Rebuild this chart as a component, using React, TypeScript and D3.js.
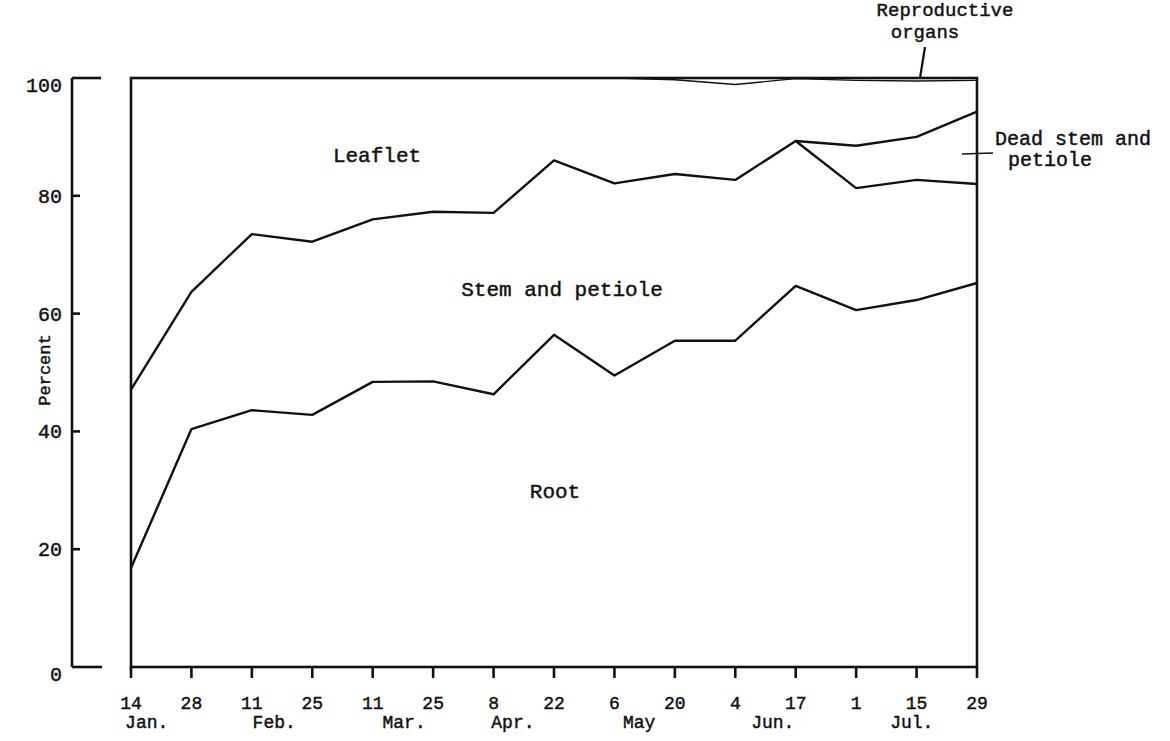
import React from "react";
import * as d3 from "d3";

const dayLabels = ["14", "28", "11", "25", "11", "25", "8", "22", "6", "20", "4", "17", "1", "15", "29"];
const monthLabels = ["Jan.", "Feb.", "Mar.", "Apr.", "May", "Jun.", "Jul."];
const monthAnchors = [0.26, 2.37, 4.52, 6.32, 8.41, 10.62, 12.92];
const yTicks = [0, 20, 40, 60, 80, 100];

// cumulative upper boundaries (percent)
const rootTop = [16.8, 40.4, 43.6, 42.8, 48.4, 48.5, 46.3, 56.4, 49.5, 55.4, 55.4, 64.7, 60.6, 62.3, 65.2];
const stemTop = [47.1, 63.7, 73.5, 72.2, 76.0, 77.3, 77.1, 86.0, 82.1, 83.7, 82.7, 89.3, 81.3, 82.7, 82.0];
const deadStemTop = [47.1, 63.7, 73.5, 72.2, 76.0, 77.3, 77.1, 86.0, 82.1, 83.7, 82.7, 89.3, 88.5, 90.0, 94.3];
const leafletTop = [100, 100, 100, 100, 100, 100, 100, 100, 100, 99.7, 98.9, 99.9, 99.6, 99.5, 99.6];

const FONT = "'Liberation Mono', 'DejaVu Sans Mono', monospace";

export default function App() {
  const W = 1170, H = 741;
  const x = d3.scaleLinear().domain([0, dayLabels.length - 1]).range([131, 977]);
  const y = d3.scaleLinear().domain([0, 100]).range([667, 78]);
  const line = (vals: number[], start = 0) =>
    d3.line<number>()
      .x((_, i) => x(i + start))
      .y((v) => y(v))(vals.slice(start)) || "";

  const axisX = 72;
  const txt = { fontFamily: FONT, fill: "#111", stroke: "#111", strokeWidth: 0.45 } as const;

  return (
    <svg width={W} height={H} style={{ position: "absolute", left: 0, top: 0, background: "#fff" }}>
      {/* separate y axis */}
      <g stroke="#111" strokeWidth={2.6} fill="none">
        <line x1={axisX} x2={axisX} y1={y(100)} y2={y(0)} />
        <line x1={axisX} x2={101} y1={y(100)} y2={y(100)} />
        <line x1={axisX} x2={102} y1={y(0)} y2={y(0)} />
        {yTicks.filter((t) => t > 0 && t < 100).map((t) => (
          <line key={t} x1={axisX} x2={axisX + 8} y1={y(t)} y2={y(t)} />
        ))}
      </g>
      {yTicks.map((t) => (
        <text key={t} x={62} y={y(t) + (t === 0 || t === 100 ? 14 : 7)} textAnchor="end" fontSize={20} {...txt}>
          {t}
        </text>
      ))}
      <text transform={`translate(50,${370}) rotate(-90)`} textAnchor="middle" fontSize={17} {...txt}>
        Percent
      </text>

      {/* frame */}
      <g stroke="#111" strokeWidth={2.6} fill="none">
        <rect x={x(0)} y={y(100)} width={x(14) - x(0)} height={y(0) - y(100)} />
        {dayLabels.map((_, i) => (
          <line key={i} x1={x(i)} x2={x(i)} y1={y(0)} y2={y(0) + 11} />
        ))}
      </g>
      {dayLabels.map((d, i) => (
        <text key={i} x={x(i)} y={709} textAnchor="middle" fontSize={18} {...txt}>
          {d}
        </text>
      ))}
      {monthLabels.map((m, i) => (
        <text key={m} x={x(monthAnchors[i])} y={728} textAnchor="middle" fontSize={18} {...txt}>
          {m}
        </text>
      ))}

      {/* boundary lines */}
      <g fill="none" stroke="#111" strokeWidth={2.4} strokeLinejoin="round">
        <path d={line(rootTop)} />
        <path d={line(stemTop)} />
        <path d={line(deadStemTop, 11)} />
        <path d={line(leafletTop, 8)} strokeWidth={1.4} />
      </g>

      {/* region labels */}
      <text x={377} y={162} textAnchor="middle" fontSize={21} {...txt}>Leaflet</text>
      <text x={562} y={296} textAnchor="middle" fontSize={21} {...txt}>Stem and petiole</text>
      <text x={555} y={498} textAnchor="middle" fontSize={21} {...txt}>Root</text>

      {/* annotations */}
      <text x={945} y={16} textAnchor="middle" fontSize={19} {...txt}>Reproductive</text>
      <text x={925} y={38} textAnchor="middle" fontSize={19} {...txt}>organs</text>
      <line x1={925} y1={47} x2={920} y2={y(100)} stroke="#111" strokeWidth={2.2} />
      <text x={995} y={145} fontSize={20} {...txt}>Dead stem and</text>
      <text x={1008} y={166} fontSize={20} {...txt}>petiole</text>
      <line x1={962} y1={154} x2={993} y2={153} stroke="#111" strokeWidth={1.6} />
    </svg>
  );
}
